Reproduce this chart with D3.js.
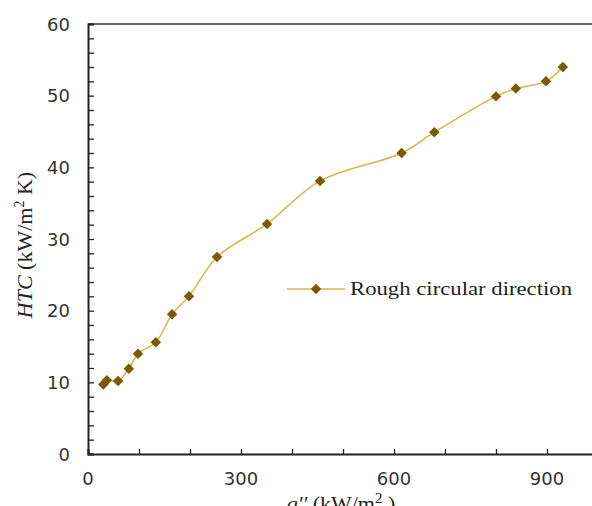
<!DOCTYPE html>
<html>
<head>
<meta charset="utf-8">
<script src="https://cdn.jsdelivr.net/npm/d3@7"></script>
<style>
  body { margin: 0; background: #fff; }
  svg { display: block; }
</style>
</head>
<body>
<svg id="chart" width="592" height="506"></svg>
<script>
// heat flux q'' (kW/m2) and HTC (kW/m2 K)
let heatFlux = [30, 37, 59, 80, 98, 133, 165, 198, 253, 351, 455, 615, 679, 800, 839, 898, 931];
let htc = [9.7, 10.3, 10.2, 11.9, 14.0, 15.6, 19.5, 22.0, 27.5, 32.1, 38.1, 42.0, 44.9, 49.9, 51.0, 52.0, 54.0];
let xTicks = [0, 300, 600, 900];
let yTicks = [0, 10, 20, 30, 40, 50, 60];
let seriesName = "Rough circular direction";

let lineColor = "#d9b44a";
let markColor = "#7a5a00";

let svg = d3.select("#chart");
let plotLeft = 88, plotTop = 24, plotBottom = 454, plotRight = 598;

let x = d3.scaleLinear().domain([0, 1000]).range([plotLeft, plotRight]);
let y = d3.scaleLinear().domain([0, 60]).range([plotBottom, plotTop]);

let points = heatFlux.map(function(d, i) { return [d, htc[i]]; });

// top frame line
svg.append("line")
    .attr("x1", plotLeft).attr("x2", plotRight)
    .attr("y1", plotTop).attr("y2", plotTop)
    .attr("stroke", "#666").attr("stroke-width", 2);

// minor ticks (inward)
let xAxis = svg.append("g")
    .attr("transform", "translate(0," + plotBottom + ")")
    .call(d3.axisTop(x).tickValues(d3.range(0, 1001, 100)).tickSize(5).tickFormat(""));
let yAxis = svg.append("g")
    .attr("transform", "translate(" + plotLeft + ",0)")
    .call(d3.axisRight(y).tickValues(d3.range(0, 61, 2)).tickSize(6).tickFormat(""));

[xAxis, yAxis].forEach(function(a) {
    a.select(".domain").attr("stroke", "#222").attr("stroke-width", 2);
    a.selectAll(".tick line").attr("stroke", "#222").attr("stroke-width", 1.3);
});

// tick labels
svg.append("g").selectAll("text")
    .data(xTicks)
    .enter().append("text")
    .attr("x", function(d) { return x(d); })
    .attr("y", 485)
    .attr("text-anchor", "middle")
    .style("font-family", "DejaVu Sans")
    .style("font-size", "18px")
    .attr("fill", "#333")
    .text(function(d) { return d; });

svg.append("g").selectAll("text")
    .data(yTicks)
    .enter().append("text")
    .attr("x", 70)
    .attr("y", function(d) { return y(d) + 6.5; })
    .attr("text-anchor", "end")
    .style("font-family", "DejaVu Sans")
    .style("font-size", "18px")
    .attr("fill", "#333")
    .text(function(d) { return d; });

// axis titles
let yTitle = svg.append("text")
    .attr("transform", "translate(32,245) rotate(-90)")
    .attr("text-anchor", "middle")
    .style("font-family", "Liberation Serif")
    .style("font-size", "22px")
    .attr("fill", "#222");
yTitle.append("tspan").style("font-style", "italic").text("HTC");
yTitle.append("tspan").text(" (kW/m");
yTitle.append("tspan").attr("dy", -8).style("font-size", "14px").text("2");
yTitle.append("tspan").attr("dy", 8).text(" K)");

let xTitle = svg.append("text")
    .attr("x", 341)
    .attr("y", 511)
    .attr("text-anchor", "middle")
    .style("font-family", "Liberation Serif")
    .style("font-size", "22px")
    .attr("fill", "#222");
xTitle.append("tspan").style("font-style", "italic").text("q''");
xTitle.append("tspan").text(" (kW/m");
xTitle.append("tspan").attr("dy", -8).style("font-size", "15px").text("2");
xTitle.append("tspan").attr("dy", 8).text(" )");

// series
let line = d3.line()
    .x(function(d) { return x(d[0]); })
    .y(function(d) { return y(d[1]); })
    .curve(d3.curveCatmullRom.alpha(0.5));

svg.append("path")
    .datum(points)
    .attr("d", line)
    .attr("fill", "none")
    .attr("stroke", lineColor)
    .attr("stroke-width", 1.5);

let diamond = d3.symbol().type(d3.symbolDiamond2).size(70);

svg.append("g").selectAll("path")
    .data(points)
    .enter().append("path")
    .attr("d", diamond)
    .attr("transform", function(d) { return "translate(" + x(d[0]) + "," + y(d[1]) + ")"; })
    .attr("fill", markColor);

// legend
let legend = svg.append("g").attr("transform", "translate(287,289)");
legend.append("line")
    .attr("x1", 0).attr("x2", 58)
    .attr("stroke", lineColor).attr("stroke-width", 1.5);
legend.append("path")
    .attr("d", diamond)
    .attr("transform", "translate(29,0)")
    .attr("fill", markColor);
legend.append("text")
    .attr("x", 63)
    .attr("y", 6)
    .style("font-family", "Liberation Serif")
    .style("font-size", "19px")
    .attr("textLength", 222)
    .attr("lengthAdjust", "spacingAndGlyphs")
    .attr("fill", "#222")
    .text(seriesName);
</script>
</body>
</html>
